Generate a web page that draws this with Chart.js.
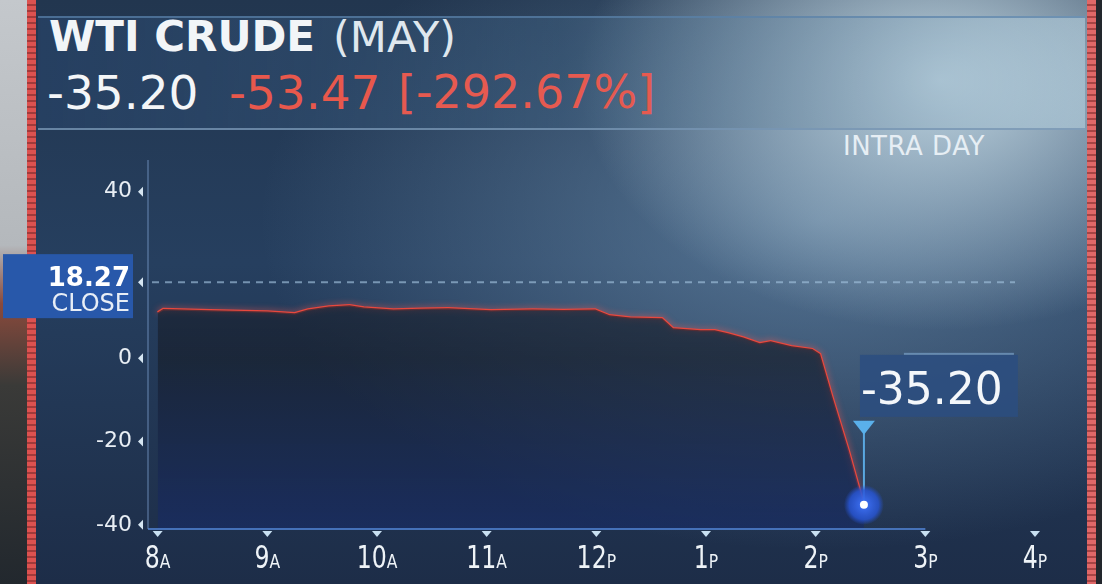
<!DOCTYPE html>
<html>
<head>
<meta charset="utf-8">
<title>WTI Crude (May) intraday</title>
<script src="https://cdn.jsdelivr.net/npm/chart.js@4.4.1/dist/chart.umd.min.js"></script>
<style>
  html, body { margin: 0; padding: 0; width: 1102px; height: 584px; overflow: hidden; background: #1a2840; }
  #stage {
    position: relative; width: 1102px; height: 584px;
    background:
      radial-gradient(ellipse 360px 250px at 940px 80px, rgba(205,226,236,0.9), rgba(205,226,236,0) 100%),
      radial-gradient(ellipse 560px 330px at 820px 220px, rgba(120,155,185,0.6), rgba(120,155,185,0) 100%),
      linear-gradient(180deg, #22364f 0%, #263f5f 45%, #1d2d48 100%);
  }
  #photo { position: absolute; left: 0; top: 0; width: 27px; height: 584px;
    background: linear-gradient(180deg, #c4c8cc 0%, #b4b8bc 42%, #8a4a3c 52%, #3a3a38 66%, #22282e 100%); }
  #lred { position: absolute; left: 27px; top: 0; width: 9px; height: 584px;
    background: repeating-linear-gradient(180deg, #dc5250 0 4px, #a23a3a 4px 6px); }
  #rred { position: absolute; left: 1087px; top: 0; width: 9px; height: 584px;
    background: repeating-linear-gradient(180deg, #e06868 0 4px, #a84444 4px 6px); }
  #rdark { position: absolute; left: 1096px; top: 0; width: 6px; height: 584px; background: #22262c; }
  #header { position: absolute; left: 38px; top: 16px; width: 1047px; height: 110px;
    background: linear-gradient(90deg, rgba(38,64,98,0.92) 0%, rgba(58,90,122,0.55) 50%, rgba(185,212,226,0.55) 100%);
    border-top: 2px solid rgba(90,130,170,0.7); border-bottom: 2px solid rgba(120,150,180,0.8); }
  .hd { position: absolute; font-family: "DejaVu Sans", sans-serif; white-space: nowrap; }
  #t1 { left: 49px; top: 12px; font-size: 42px; font-weight: bold; color: #f2f5f8; }
  #t2 { left: 333px; top: 12px; font-size: 43px; color: #dfe7ee; }
  #q1 { left: 47px; top: 65px; font-size: 47px; color: #f4f6f8; }
  #q2 { left: 229px; top: 65px; font-size: 47px; color: #e8584c; }
  #q3 { left: 398px; top: 65px; font-size: 46px; color: #e65a50; }
  #intra { left: 843px; top: 131px; font-size: 26px; color: #e6eef4; letter-spacing: 0.5px; }
  canvas { position: absolute; left: 0; top: 0; }
</style>
</head>
<body>
<div id="stage">
  <div id="photo"></div>
  <div id="lred"></div>
  <div id="rred"></div>
  <div id="rdark"></div>
  <div id="header"></div>
  <div class="hd" id="t1">WTI CRUDE</div>
  <div class="hd" id="t2">(MAY)</div>
  <div class="hd" id="q1">-35.20</div>
  <div class="hd" id="q2">-53.47</div>
  <div class="hd" id="q3">[-292.67%]</div>
  <div class="hd" id="intra">INTRA DAY</div>
  <canvas id="wti" width="1102" height="584"></canvas>
</div>
<script>
/* DATA */
const tickHours = [8, 9, 10, 11, 12, 13, 14, 15, 16];
const tickNums = ['8', '9', '10', '11', '12', '1', '2', '3', '4'];
const tickSuffix = ['A', 'A', 'A', 'A', 'P', 'P', 'P', 'P', 'P'];
const yTicks = [-40, -20, 0, 40];

// hour of day (ET) and price
const times = [8.0, 8.05, 8.48, 9.0, 9.25, 9.37, 9.56, 9.75, 9.88, 10.15, 10.4, 10.65, 11.04, 11.42, 11.7,
               11.99, 12.12, 12.31, 12.6, 12.7, 12.95, 13.08, 13.2, 13.34, 13.49, 13.59, 13.78,
               13.97, 14.04, 14.15, 14.3, 14.44];
const prices = [11.0, 11.8, 11.5, 11.2, 10.8, 11.7, 12.4, 12.7, 12.2, 11.7, 11.9, 12.0, 11.5, 11.7, 11.6,
                11.7, 10.3, 9.8, 9.6, 7.2, 6.7, 6.7, 6.0, 5.0, 3.6, 4.1, 2.9,
                2.2, 1.0, -9.0, -22.0, -35.20];

const closePrice = 18.27;
const lastPrice = -35.20;

/* CHART */
const points = times.map((t, i) => ({ x: t, y: prices[i] }));

// red glow on the price line only (dataset 1)
const glow = {
    id: 'glow',
    beforeDatasetDraw(chart, args) {
        chart.ctx.save();
        if (args.index === 1) {
            chart.ctx.shadowColor = 'rgba(255,90,80,0.75)';
            chart.ctx.shadowBlur = 6;
        }
    },
    afterDatasetDraw(chart) {
        chart.ctx.restore();
    }
};

const overlay = {
    id: 'overlay',
    afterDraw(chart) {
        const ctx = chart.ctx;
        const xs = chart.scales.x;
        const ys = chart.scales.y;
        const area = chart.chartArea;
        ctx.save();

        // axis lines
        ctx.strokeStyle = 'rgba(120,155,200,0.55)';
        ctx.lineWidth = 1.5;
        ctx.beginPath();
        ctx.moveTo(area.left - 2, 160);
        ctx.lineTo(area.left - 2, area.bottom);
        ctx.stroke();
        ctx.strokeStyle = 'rgba(80,130,210,0.8)';
        ctx.lineWidth = 2;
        ctx.beginPath();
        ctx.moveTo(area.left - 2, area.bottom);
        ctx.lineTo(xs.getPixelForValue(15), area.bottom);
        ctx.stroke();

        // close line
        const cy = ys.getPixelForValue(closePrice);
        ctx.strokeStyle = 'rgba(160,192,220,0.65)';
        ctx.setLineDash([7, 6]);
        ctx.lineWidth = 2;
        ctx.beginPath();
        ctx.moveTo(area.left + 2, cy);
        ctx.lineTo(1015, cy);
        ctx.stroke();
        ctx.setLineDash([]);

        // y tick markers
        ctx.fillStyle = '#d6e6f2';
        yTicks.concat([closePrice]).forEach(v => {
            const y = ys.getPixelForValue(v);
            ctx.beginPath();
            ctx.moveTo(area.left - 12, y);
            ctx.lineTo(area.left - 7, y - 5);
            ctx.lineTo(area.left - 7, y + 5);
            ctx.closePath();
            ctx.fill();
        });

        // x tick markers and labels (tall digit, small suffix)
        tickHours.forEach((h, i) => {
            const x = xs.getPixelForValue(h);
            ctx.fillStyle = '#c8e0f2';
            ctx.beginPath();
            ctx.moveTo(x - 5, area.bottom + 2);
            ctx.lineTo(x + 5, area.bottom + 2);
            ctx.lineTo(x, area.bottom + 8);
            ctx.closePath();
            ctx.fill();

            ctx.fillStyle = '#eef3f7';
            ctx.textBaseline = 'alphabetic';
            ctx.textAlign = 'left';
            const numFont = '32px "DejaVu Sans Condensed", "DejaVu Sans", sans-serif';
            const sufFont = '19px "DejaVu Sans", sans-serif';
            ctx.font = numFont;
            const w1 = ctx.measureText(tickNums[i]).width * 0.82;
            ctx.font = sufFont;
            const w2 = ctx.measureText(tickSuffix[i]).width * 0.82;
            const x0 = x - (w1 + w2) / 2;
            ctx.save();
            ctx.translate(x0, 568);
            ctx.scale(0.82, 1);
            ctx.font = numFont;
            ctx.fillText(tickNums[i], 0, 0);
            ctx.font = sufFont;
            ctx.fillText(tickSuffix[i], w1 / 0.82, 0);
            ctx.restore();
        });

        // close label box
        ctx.fillStyle = '#2858aa';
        ctx.fillRect(3, cy - 28, 130, 64);
        ctx.fillStyle = '#ffffff';
        ctx.textAlign = 'right';
        ctx.font = 'bold 26px "DejaVu Sans", sans-serif';
        ctx.fillText('18.27', 130, cy + 4);
        ctx.fillStyle = '#e8eef6';
        ctx.font = '24px "DejaVu Sans", sans-serif';
        ctx.fillText('CLOSE', 130, cy + 29);

        // last price marker
        const lx = xs.getPixelForValue(times[times.length - 1]);
        const ly = ys.getPixelForValue(lastPrice);
        ctx.strokeStyle = '#5aa8e0';
        ctx.lineWidth = 2;
        ctx.beginPath();
        ctx.moveTo(lx, ly);
        ctx.lineTo(lx, ly - 78);
        ctx.stroke();
        ctx.fillStyle = '#5ab0ea';
        ctx.beginPath();
        ctx.moveTo(lx - 11, ly - 84);
        ctx.lineTo(lx + 11, ly - 84);
        ctx.lineTo(lx, ly - 70);
        ctx.closePath();
        ctx.fill();

        const g = ctx.createRadialGradient(lx, ly, 2, lx, ly, 20);
        g.addColorStop(0, 'rgba(60,110,240,1)');
        g.addColorStop(0.7, 'rgba(40,85,210,0.85)');
        g.addColorStop(1, 'rgba(40,85,210,0)');
        ctx.fillStyle = g;
        ctx.beginPath();
        ctx.arc(lx, ly, 20, 0, Math.PI * 2);
        ctx.fill();
        ctx.fillStyle = '#ffffff';
        ctx.beginPath();
        ctx.arc(lx, ly, 4, 0, Math.PI * 2);
        ctx.fill();

        // last price callout
        ctx.fillStyle = 'rgba(44,78,128,0.85)';
        ctx.fillRect(lx - 4, ly - 150, 158, 62);
        ctx.fillStyle = 'rgba(120,160,200,0.7)';
        ctx.fillRect(lx + 40, ly - 152, 110, 2);
        ctx.fillStyle = '#f4f7fa';
        ctx.textAlign = 'left';
        ctx.font = '44px "DejaVu Sans", sans-serif';
        ctx.fillText('-35.20', lx - 3, ly - 101);

        ctx.restore();
    }
};

const ctx = document.getElementById('wti').getContext('2d');
const wtiChart = new Chart(ctx, {
    type: 'line',
    data: {
        datasets: [
            {
                label: 'fill',
                data: points,
                borderWidth: 0,
                pointRadius: 0,
                tension: 0,
                fill: 'start',
                backgroundColor: (c) => {
                    const a = c.chart.chartArea;
                    if (!a) return 'rgba(30,40,55,0.6)';
                    const g = c.chart.ctx.createLinearGradient(0, a.top, 0, a.bottom);
                    g.addColorStop(0, 'rgba(30,40,56,0.55)');
                    g.addColorStop(0.55, 'rgba(24,32,46,0.72)');
                    g.addColorStop(1, 'rgba(24,44,100,0.7)');
                    return g;
                },
            },
            {
                label: 'WTI Crude (May)',
                data: points,
                borderColor: '#e8483e',
                borderWidth: 2.5,
                pointRadius: 0,
                tension: 0,
                fill: false,
            },
        ],
    },
    options: {
        responsive: false,
        animation: false,
        layout: { padding: { top: 150, right: 67, left: 0, bottom: 0 } },
        plugins: {
            legend: { display: false },
            tooltip: { enabled: false },
        },
        scales: {
            x: {
                type: 'linear',
                min: 7.93,
                max: 16,
                grid: { display: false },
                border: { display: false },
                ticks: { display: false },
                afterBuildTicks: (s) => { s.ticks = tickHours.map(v => ({ value: v })); },
                afterFit: (s) => { s.height = 55; },
            },
            y: {
                min: -41,
                max: 50,
                grid: { display: false, drawTicks: false },
                border: { display: false },
                afterBuildTicks: (s) => { s.ticks = yTicks.map(v => ({ value: v })); },
                afterFit: (s) => { s.width = 150; },
                ticks: {
                    color: '#e8eef4',
                    padding: 18,
                    font: { family: '"DejaVu Sans", sans-serif', size: 22 },
                    callback: (v) => String(v),
                },
            },
        },
    },
    plugins: [glow, overlay],
});
</script>
</body>
</html>
